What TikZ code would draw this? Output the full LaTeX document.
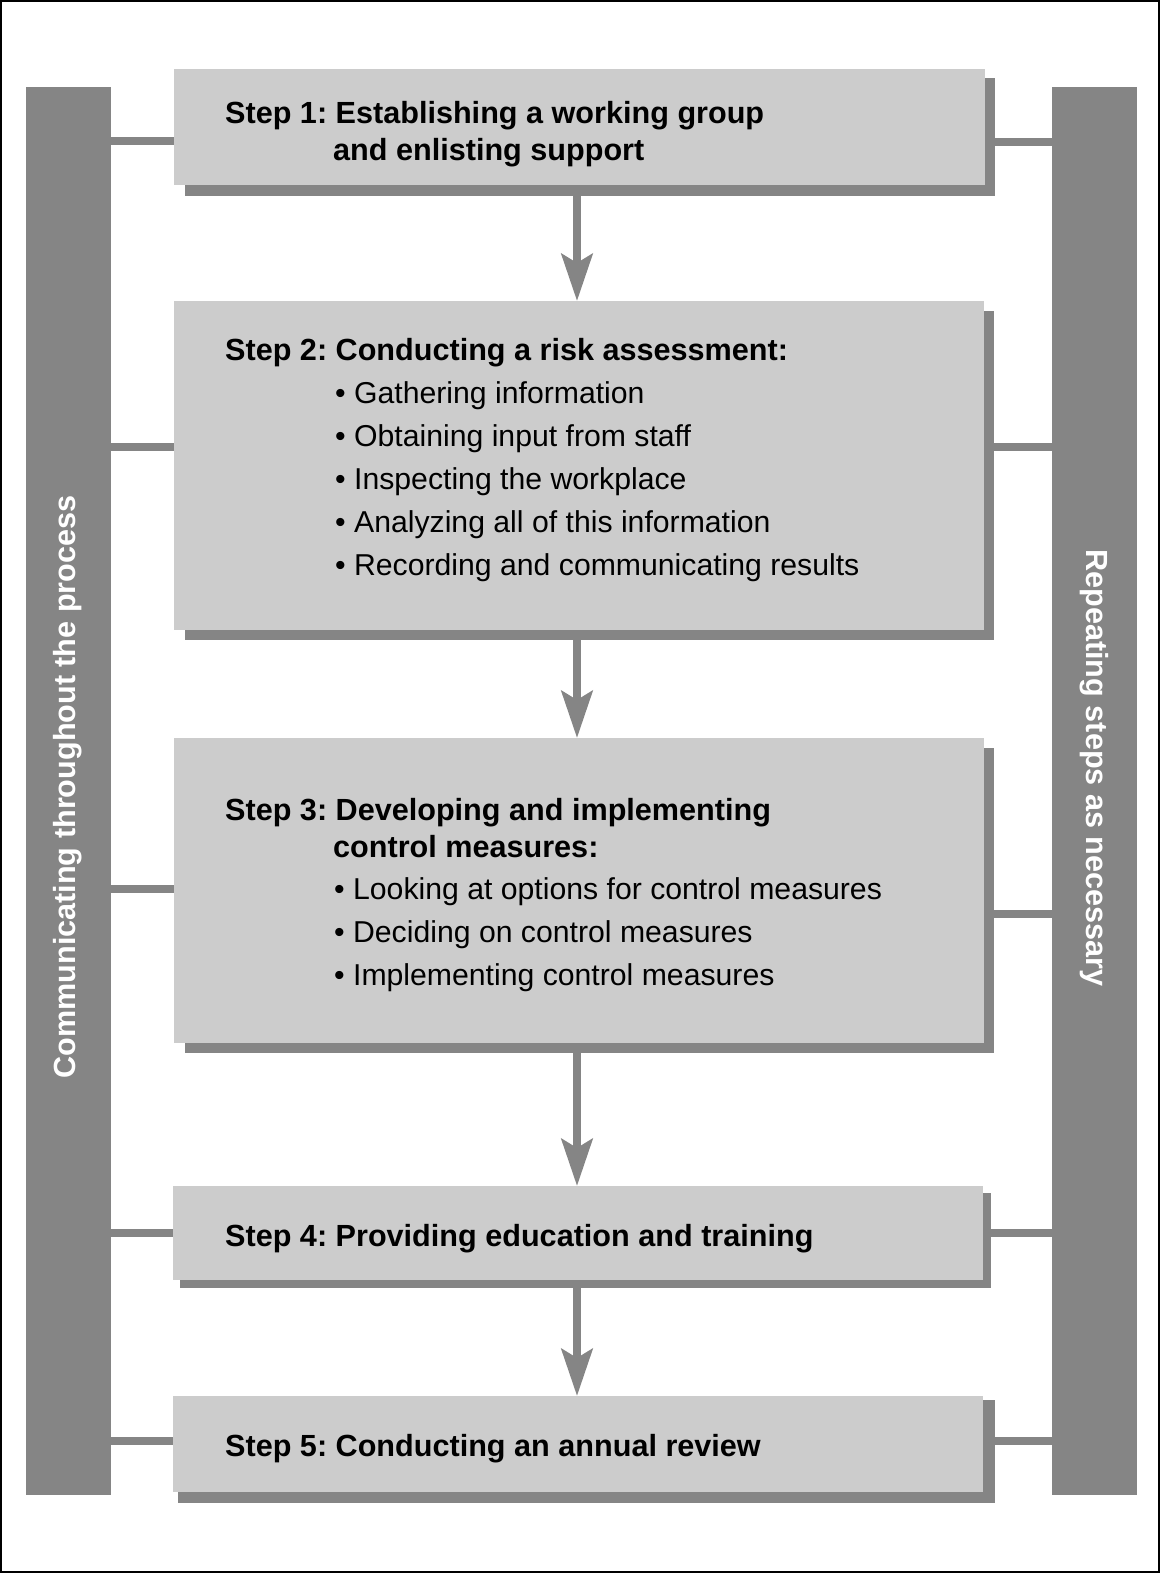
\documentclass[tikz,border=0pt]{standalone}
\usepackage{fontspec}
\setmainfont{Liberation Sans}
\usetikzlibrary{arrows.meta}
\definecolor{bardark}{RGB}{133,133,133}
\definecolor{boxlight}{RGB}{204,204,204}
\frenchspacing
\begin{document}
\begin{tikzpicture}[x=1pt,y=-1pt,
  bar/.style={fill=bardark, draw=none, inner sep=0pt, outer sep=0pt, anchor=north west, minimum width=85pt, minimum height=1408pt},
  stepbox/.style={fill=boxlight, draw=none, inner sep=0pt, outer sep=0pt, anchor=north west},
  shadowbox/.style={fill=bardark, draw=none, inner sep=0pt, outer sep=0pt, anchor=north west},
  conn/.style={draw=bardark, line width=8pt},
  flow/.style={draw=bardark, line width=8pt, -{Stealth[length=47pt,width=31pt,inset=9pt]}},
  headtxt/.style={anchor=base west, font=\fontsize{30.6}{36}\selectfont\bfseries, inner sep=0pt},
  itemtxt/.style={anchor=base west, font=\fontsize{30.2}{36}\selectfont, inner sep=0pt},
  sidetxt/.style={text=white, font=\fontsize{30.6}{36}\selectfont\bfseries, inner sep=0pt}
]
\useasboundingbox (0,0) rectangle (1160,1573);
\draw[line width=2pt] (1,1) rectangle (1159,1572);

% side bars
\node[bar] (lbar) at (26,87) {};
\node[bar] (rbar) at (1052,87) {};
\node[sidetxt, rotate=90] (ltxt) at (68,787) {Communicating throughout the process};
\node[sidetxt, rotate=-90] (rtxt) at (1094,768) {Repeating steps as necessary};

% shadows
\node[shadowbox, minimum width=810pt, minimum height=118pt] (s1) at (185,78) {};
\node[shadowbox, minimum width=809pt, minimum height=329pt] (s2) at (185,311) {};
\node[shadowbox, minimum width=809pt, minimum height=305pt] (s3) at (185,748) {};
\node[shadowbox, minimum width=811pt, minimum height=95pt] (s4) at (180,1193) {};
\node[shadowbox, minimum width=817pt, minimum height=103pt] (s5) at (178,1400) {};

% boxes
\node[stepbox, minimum width=811pt, minimum height=116pt] (b1) at (174,69) {};
\node[stepbox, minimum width=810pt, minimum height=329pt] (b2) at (174,301) {};
\node[stepbox, minimum width=810pt, minimum height=305pt] (b3) at (174,738) {};
\node[stepbox, minimum width=810pt, minimum height=94pt] (b4) at (173,1186) {};
\node[stepbox, minimum width=810pt, minimum height=96pt] (b5) at (173,1396) {};

% connectors to the bars
\draw[conn] (lbar.east |- 0,141) -- (b1.west |- 0,141);
\draw[conn] (lbar.east |- 0,447) -- (b2.west |- 0,447);
\draw[conn] (lbar.east |- 0,889) -- (b3.west |- 0,889);
\draw[conn] (lbar.east |- 0,1233) -- (b4.west |- 0,1233);
\draw[conn] (lbar.east |- 0,1441) -- (b5.west |- 0,1441);
\draw[conn] (s1.east |- 0,142) -- (rbar.west |- 0,142);
\draw[conn] (s2.east |- 0,447) -- (rbar.west |- 0,447);
\draw[conn] (s3.east |- 0,914) -- (rbar.west |- 0,914);
\draw[conn] (s4.east |- 0,1233) -- (rbar.west |- 0,1233);
\draw[conn] (s5.east |- 0,1441) -- (rbar.west |- 0,1441);

% flow arrows
\draw[flow] (s1.south -| 577,0) -- (b2.north -| 577,0);
\draw[flow] (s2.south -| 577,0) -- (b3.north -| 577,0);
\draw[flow] (s3.south -| 577,0) -- (b4.north -| 577,0);
\draw[flow] (s4.south -| 577,0) -- (b5.north -| 577,0);

% texts
\node[headtxt] (t1a) at (225,124) {Step 1: Establishing a working group};
\node[headtxt] (t1b) at (333,161) {and enlisting support};

\node[headtxt] (t2a) at (225,360) {Step 2: Conducting a risk assessment:};
\node[itemtxt] (t2b) at (335,403) {\textbullet\ Gathering information};
\node[itemtxt] (t2c) at (335,446) {\textbullet\ Obtaining input from staff};
\node[itemtxt] (t2d) at (335,489) {\textbullet\ Inspecting the workplace};
\node[itemtxt] (t2e) at (335,532) {\textbullet\ Analyzing all of this information};
\node[itemtxt] (t2f) at (335,575) {\textbullet\ Recording and communicating results};

\node[headtxt] (t3a) at (225,820) {Step 3: Developing and implementing};
\node[headtxt] (t3b) at (333,857) {control measures:};
\node[itemtxt] (t3c) at (334,899) {\textbullet\ Looking at options for control measures};
\node[itemtxt] (t3d) at (334,942) {\textbullet\ Deciding on control measures};
\node[itemtxt] (t3e) at (334,985) {\textbullet\ Implementing control measures};

\node[headtxt] (t4) at (225,1246) {Step 4: Providing education and training};
\node[headtxt] (t5) at (225,1456) {Step 5: Conducting an annual review};
\end{tikzpicture}
\end{document}
